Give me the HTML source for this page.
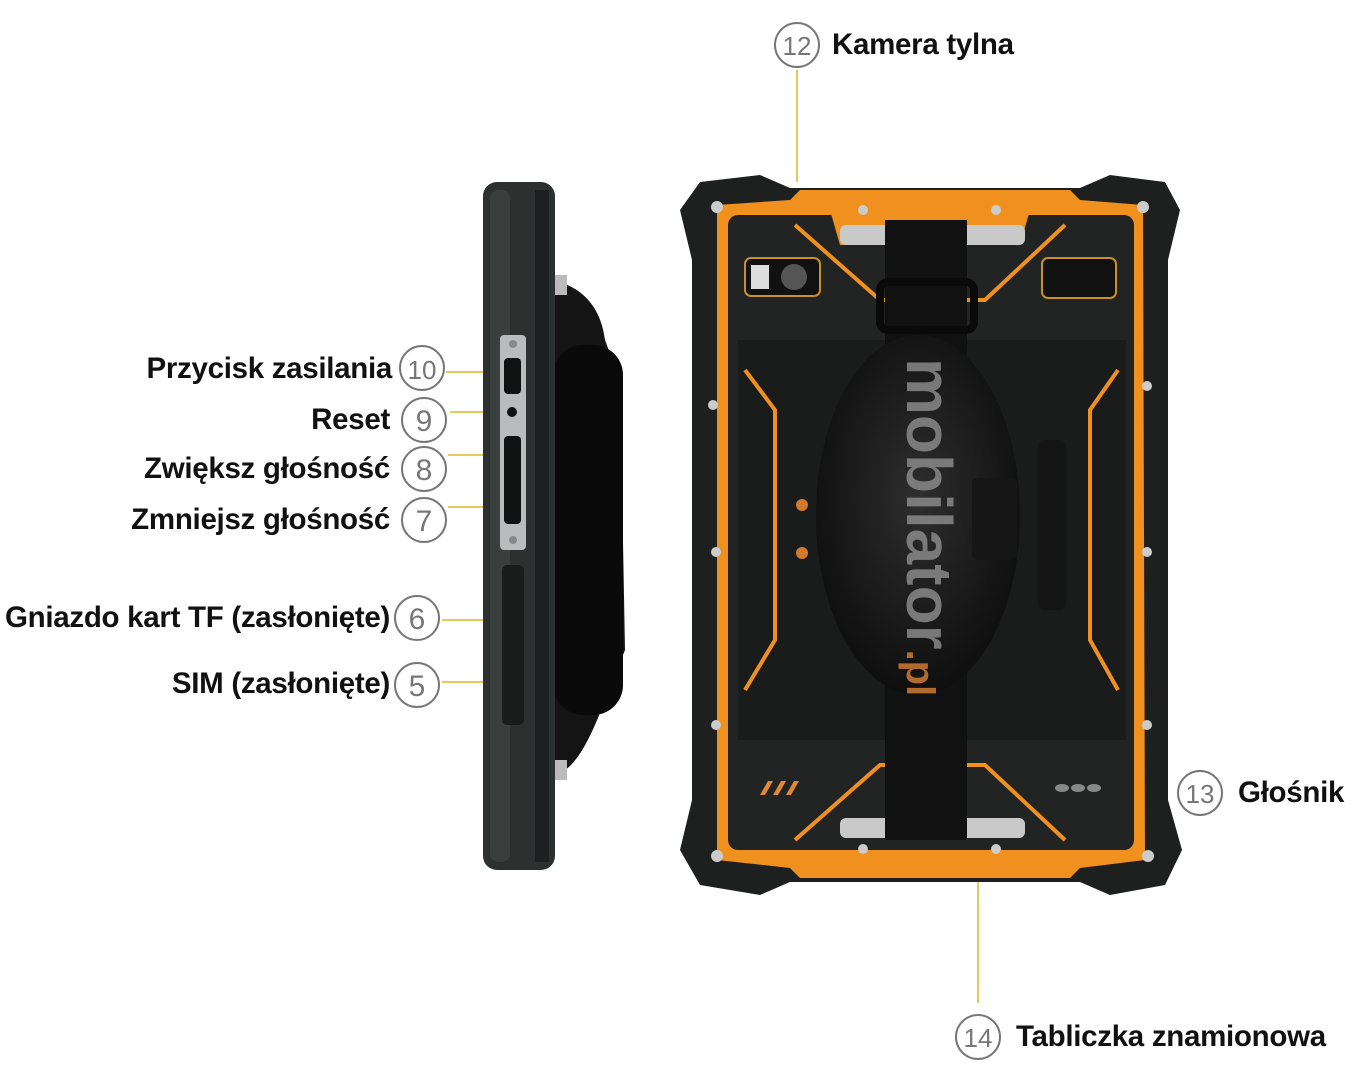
<!DOCTYPE html>
<html><head><meta charset="utf-8"><style>
html,body{margin:0;padding:0;background:#fff;width:1366px;height:1080px;overflow:hidden;position:relative;font-family:"Liberation Sans",sans-serif}
.t{position:absolute;font-weight:bold;font-size:29.5px;color:#111;white-space:nowrap;line-height:30px;letter-spacing:-0.3px}
.r{text-align:right}
</style></head><body>
<svg width="1366" height="1080" style="position:absolute;left:0;top:0">
<defs>
<radialGradient id="lea" cx="50%" cy="45%" r="60%"><stop offset="0" stop-color="#2e2e2e"/><stop offset="1" stop-color="#0c0c0c"/></radialGradient>
</defs>
<g stroke="#e8c85a" stroke-width="2">
<line x1="446" y1="372" x2="506" y2="372"/>
<line x1="450" y1="412" x2="506" y2="412"/>
<line x1="448" y1="455" x2="510" y2="455"/>
<line x1="448" y1="507" x2="510" y2="507"/>
<line x1="442" y1="620" x2="510" y2="620"/>
<line x1="442" y1="682" x2="510" y2="682"/>
<line x1="797" y1="70" x2="797" y2="182"/>
<line x1="978" y1="880" x2="978" y2="1003"/>
</g>
<path d="M552 280 C575 285 600 300 605 340 L620 380 L625 650 L605 700 C590 740 575 770 555 775 Z" fill="#141414"/>
<rect x="553" y="345" width="70" height="370" rx="30" fill="#0a0a0a"/>
<rect x="553" y="275" width="14" height="20" fill="#bbb"/>
<rect x="553" y="760" width="14" height="20" fill="#bbb"/>
<rect x="483" y="182" width="72" height="688" rx="14" fill="#2c302f"/>
<rect x="490" y="190" width="20" height="672" rx="8" fill="#3a3e3d"/>
<rect x="535" y="190" width="14" height="672" fill="#1d2020"/>
<rect x="500" y="335" width="26" height="215" rx="4" fill="#b8bcbc"/>
<rect x="504" y="358" width="17" height="36" rx="4" fill="#111"/>
<circle cx="512" cy="412" r="5" fill="#111"/>
<rect x="504" y="436" width="17" height="88" rx="4" fill="#111"/>
<circle cx="513" cy="344" r="4" fill="#888"/><circle cx="513" cy="540" r="4" fill="#888"/>
<rect x="502" y="565" width="22" height="160" rx="5" fill="#1a1c1c"/>
<path d="M700 182 L760 175 L790 188 L1080 188 L1110 175 L1165 182 L1180 210 L1168 260 L1168 800 L1182 850 L1165 885 L1110 895 L1080 882 L790 882 L760 895 L700 885 L680 850 L692 800 L692 260 L680 210 Z" fill="#1e1f1f"/>
<path d="M717 205 L790 200 L800 190 L1070 190 L1080 200 L1143 205 L1145 860 L1080 868 L1070 878 L800 878 L790 868 L717 860 Z" fill="#f0901e"/>
<rect x="728" y="215" width="406" height="635" rx="10" fill="#222423"/>
<rect x="738" y="340" width="388" height="400" fill="#1a1b1b"/>
<g stroke="#f0901e" stroke-width="4" fill="none">
<path d="M795 225 L880 300 L960 300"/>
<path d="M1065 225 L985 300 L960 300"/>
<path d="M745 370 L775 410 L775 640 L745 690"/>
<path d="M1118 370 L1090 410 L1090 640 L1118 690"/>
<path d="M795 840 L880 765 L985 765 L1065 840"/>
</g>
<path d="M830 210 L1030 210 L1020 245 L840 245 Z" fill="#f0901e"/>
<rect x="840" y="225" width="185" height="20" rx="6" fill="#c9c9c9"/>
<rect x="840" y="818" width="185" height="20" rx="6" fill="#c9c9c9"/>
<rect x="745" y="258" width="75" height="38" rx="6" fill="#111" stroke="#c8902a" stroke-width="2"/>
<rect x="751" y="265" width="18" height="24" fill="#ddd"/>
<circle cx="794" cy="277" r="13" fill="#555"/>
<rect x="1042" y="258" width="74" height="40" rx="6" fill="#111" stroke="#c8902a" stroke-width="2"/>
<g fill="#ccc">
<circle cx="717" cy="207" r="6"/><circle cx="1143" cy="207" r="6"/><circle cx="717" cy="856" r="6"/><circle cx="1148" cy="856" r="6"/>
<circle cx="863" cy="210" r="5"/><circle cx="996" cy="210" r="5"/><circle cx="863" cy="849" r="5"/><circle cx="996" cy="849" r="5"/>
<circle cx="713" cy="405" r="5"/><circle cx="1147" cy="386" r="5"/><circle cx="716" cy="552" r="5"/><circle cx="1147" cy="552" r="5"/><circle cx="716" cy="725" r="5"/><circle cx="1147" cy="725" r="5"/>
</g>
<circle cx="802" cy="505" r="6" fill="#d07a30"/><circle cx="802" cy="553" r="6" fill="#d07a30"/>
<rect x="1038" y="440" width="28" height="170" rx="6" fill="#141414"/>
<rect x="885" y="220" width="82" height="620" fill="#111"/>
<rect x="880" y="282" width="94" height="48" rx="8" fill="none" stroke="#0a0a0a" stroke-width="8"/>
<ellipse cx="918" cy="515" rx="102" ry="180" fill="url(#lea)"/>
<rect x="972" y="478" width="45" height="82" rx="5" fill="#161616"/>
<g fill="#e08a38"><path d="M760 795 l8 -14 l5 0 l-8 14z"/><path d="M773 795 l8 -14 l5 0 l-8 14z"/><path d="M786 795 l8 -14 l5 0 l-8 14z"/></g>
<g fill="#888"><ellipse cx="1062" cy="788" rx="7" ry="4"/><ellipse cx="1078" cy="788" rx="7" ry="4"/><ellipse cx="1094" cy="788" rx="7" ry="4"/></g>
<text transform="translate(907,358) rotate(90)" font-family="Liberation Sans,sans-serif" font-weight="bold" font-size="64" fill="#8a8a8a" fill-opacity="0.85">mobilator<tspan fill="#d07a30" font-size="40">.pl</tspan></text>
<g fill="none" stroke="#777" stroke-width="2">
<circle cx="422" cy="368" r="22"/><circle cx="424" cy="420" r="22"/><circle cx="424" cy="469" r="22"/><circle cx="424" cy="520" r="22"/>
<circle cx="417" cy="618" r="22"/><circle cx="417" cy="685" r="22"/>
<circle cx="797" cy="45" r="22"/><circle cx="1200" cy="793" r="22"/><circle cx="978" cy="1037" r="22"/>
</g>
<g font-family="Liberation Sans,sans-serif" font-size="30" fill="#777" text-anchor="middle">
<text x="422" y="379" font-size="26">10</text><text x="424" y="431">9</text><text x="424" y="480">8</text><text x="424" y="531">7</text>
<text x="417" y="629">6</text><text x="417" y="696">5</text>
<text x="797" y="55" font-size="26">12</text><text x="1200" y="803" font-size="26">13</text><text x="978" y="1047" font-size="26">14</text>
</g>
</svg>
<div class="t r" style="right:974px;top:354px">Przycisk zasilania</div>
<div class="t r" style="right:976px;top:405px">Reset</div>
<div class="t r" style="right:976px;top:454px">Zwiększ głośność</div>
<div class="t r" style="right:976px;top:505px">Zmniejsz głośność</div>
<div class="t r" style="right:976px;top:603px">Gniazdo kart TF (zasłonięte)</div>
<div class="t r" style="right:976px;top:669px">SIM (zasłonięte)</div>
<div class="t" style="left:832px;top:30px">Kamera tylna</div>
<div class="t" style="left:1238px;top:778px">Głośnik</div>
<div class="t" style="left:1016px;top:1022px">Tabliczka znamionowa</div>
</body></html>
